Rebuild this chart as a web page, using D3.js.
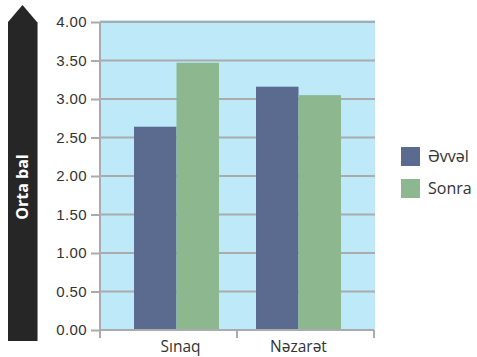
<!DOCTYPE html>
<html>
<head>
<meta charset="utf-8">
<script src="https://cdn.jsdelivr.net/npm/d3@7"></script>
<style>
  html, body { margin: 0; padding: 0; background: #fff; }
  svg { display: block; font-family: "Open Sans", "Noto Sans", sans-serif; }
</style>
</head>
<body>
<svg id="chart" width="477" height="357"></svg>
<script>
// Group categories, series and their mean scores
const categories = ["Sınaq", "Nəzarət"];
const seriesNames = ["Əvvəl", "Sonra"];
const evvelValues = [2.64, 3.16];
const sonraValues = [3.47, 3.05];
const yTicks = [0, 0.5, 1, 1.5, 2, 2.5, 3, 3.5, 4];
const yTitle = "Orta bal";
const colors = ["#5b6b8f", "#8db78f"];

const rows = categories.map((c, i) => ({ cat: c, values: [evvelValues[i], sonraValues[i]] }));

const svg = d3.select("#chart");
const plot = { left: 100, right: 375, top: 22, bottom: 330 };

const y = d3.scaleLinear().domain([0, 4]).range([plot.bottom, plot.top]);
const x0 = d3.scaleBand().domain(categories).range([115.5, 359.5]).paddingInner(0).paddingOuter(0);
const x1 = d3.scaleBand().domain(seriesNames).range([18.5, x0.bandwidth() - 18.5]).padding(0);
const color = d3.scaleOrdinal().domain(seriesNames).range(colors);

// Plot background
svg.append("rect")
  .attr("x", plot.left).attr("y", plot.top - 2)
  .attr("width", plot.right - plot.left).attr("height", plot.bottom - plot.top + 2)
  .attr("fill", "#bde9f8");

// Horizontal gridlines
svg.append("g").selectAll("line").data(yTicks.filter(d => d > 0)).join("line")
  .attr("x1", plot.left).attr("x2", plot.right)
  .attr("y1", d => y(d)).attr("y2", d => y(d))
  .attr("stroke", "#a9abad").attr("stroke-width", 2);

// Bars
const groups = svg.append("g").selectAll("g").data(rows).join("g")
  .attr("transform", d => `translate(${x0(d.cat)},0)`);
groups.selectAll("rect").data(d => d.values.map((v, i) => ({ key: seriesNames[i], v }))).join("rect")
  .attr("x", d => x1(d.key)).attr("width", x1.bandwidth())
  .attr("y", d => y(d.v)).attr("height", d => y(0) - y(d.v))
  .attr("fill", d => color(d.key));

// Y axis
const yAxis = svg.append("g").attr("transform", `translate(${plot.left},0)`)
  .call(d3.axisLeft(y).tickValues(yTicks).tickFormat(d3.format(".2f")).tickSize(9).tickPadding(4));
yAxis.select(".domain").remove();
yAxis.selectAll(".tick line").attr("stroke", "#a9abad").attr("stroke-width", 2);
yAxis.selectAll(".tick text").attr("fill", "#333")
  .style("font-size", "15px").style("letter-spacing", "0.4px");
svg.append("line").attr("x1", plot.left).attr("x2", plot.left)
  .attr("y1", plot.top).attr("y2", plot.bottom + 8)
  .attr("stroke", "#a9abad").attr("stroke-width", 2);

// X axis line with separators between groups
svg.append("line").attr("x1", plot.left).attr("x2", plot.right - 1)
  .attr("y1", plot.bottom).attr("y2", plot.bottom)
  .attr("stroke", "#a9abad").attr("stroke-width", 2);
const sepX = [plot.left, (x0(categories[0]) + x0.bandwidth() + x0(categories[1])) / 2 - 0.5, plot.right - 1];
svg.append("g").selectAll("line").data(sepX).join("line")
  .attr("x1", d => d).attr("x2", d => d)
  .attr("y1", plot.bottom).attr("y2", plot.bottom + 8)
  .attr("stroke", "#a9abad").attr("stroke-width", 2);
svg.append("g").selectAll("text").data(categories).join("text")
  .attr("x", (d, i) => x0(d) + x0.bandwidth() / 2 + (i === 0 ? 4 : 0))
  .attr("y", 351.5)
  .attr("text-anchor", "middle")
  .attr("fill", "#333").style("font-size", "15.5px")
  .text(d => d);

// Arrow-shaped y title panel
const ax = 8, aw = 29, tip = 5, shoulder = 22, base = 341;
svg.append("path")
  .attr("d", `M${ax},${base} L${ax},${shoulder} L${ax + aw / 2},${tip} L${ax + aw},${shoulder} L${ax + aw},${base} Z`)
  .attr("fill", "#262626");
svg.append("line").attr("x1", ax + aw + 0.5).attr("x2", ax + aw + 0.5)
  .attr("y1", shoulder).attr("y2", base)
  .attr("stroke", "#8a8a8a").attr("stroke-width", 1);
svg.append("text")
  .attr("transform", `translate(${ax + aw / 2 + 5.5},187) rotate(-90)`)
  .attr("text-anchor", "middle")
  .attr("fill", "#fff").style("font-size", "16px").style("font-weight", "bold")
  .text(yTitle);

// Legend
const legend = svg.append("g").selectAll("g").data(seriesNames).join("g")
  .attr("transform", (d, i) => `translate(401,${147 + i * 32})`);
legend.append("rect").attr("width", 19).attr("height", 19).attr("fill", d => color(d));
legend.append("text").attr("x", 27).attr("y", 15)
  .attr("fill", "#333").style("font-size", "16px").text(d => d);
</script>
</body>
</html>
